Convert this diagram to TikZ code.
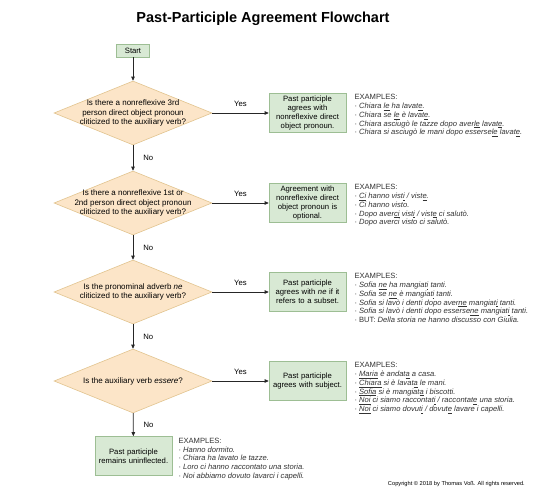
\documentclass[tikz,border=0pt]{standalone}
\usepackage{fontspec}
\setmainfont{Liberation Sans}
\usetikzlibrary{shapes.geometric,arrows.meta,positioning}

\definecolor{deciFill}{HTML}{FCE5C8}
\definecolor{deciLine}{HTML}{E2C48F}
\definecolor{resFill}{HTML}{D8E9D4}
\definecolor{resLine}{HTML}{9DBE94}
\definecolor{exText}{HTML}{333333}

\newcommand\flowfont{\fontsize{7.7}{8.9}\selectfont}
\newcommand\qfont{\fontsize{8}{9.2}\selectfont}
\newcommand\exfont{\fontsize{7.6}{8.8}\selectfont}

\tikzset{
  decision/.style={diamond, draw=deciLine, fill=deciFill, line width=0.6pt,
    minimum width=158pt, minimum height=64pt, inner sep=0pt},
  qtext/.style={align=center, font=\qfont, inner sep=0pt},
  result/.style={draw=resLine, fill=resFill, line width=0.6pt, text width=75pt,
    align=center, minimum width=77pt, minimum height=39pt, inner sep=1pt, font=\flowfont},
  startbox/.style={draw=resLine, fill=resFill, line width=0.6pt, minimum width=33pt,
    minimum height=13pt, inner sep=1pt, font=\flowfont},
  examples/.style={anchor=north west, align=left, inner sep=0pt, font=\exfont, text=exText},
  flow/.style={draw=black!85, line width=0.7pt, -{Triangle[length=4pt,width=3.5pt]}},
  yes/.style={midway, above=5pt, font=\flowfont, inner sep=1pt},
  no/.style={midway, right=9pt, font=\flowfont, inner sep=1pt}
}

\begin{document}
\begin{tikzpicture}[x=1pt,y=-1pt]
\useasboundingbox[fill=white] (0,0) rectangle (540,489);

\node[font=\fontsize{14.5}{17}\selectfont\bfseries] (title) at (263,19) {Past-Participle Agreement Flowchart};
\node[startbox] (start) at (133,50.5) {Start};

% questions
\node[decision, label={[qtext]center:{Is there a nonreflexive 3rd\\person direct object pronoun\\cliticized to the auxiliary verb?}}] (q1) at (133,113) {};
\node[decision, label={[qtext]center:{Is there a nonreflexive 1st or\\2nd person direct object pronoun\\cliticized to the auxiliary verb?}}] (q2) at (133,203) {};
\node[decision, label={[qtext]center:{Is the pronominal adverb \textit{ne}\\cliticized to the auxiliary verb?}}] (q3) at (133,292) {};
\node[decision, label={[qtext]center:{Is the auxiliary verb \textit{essere}?}}] (q4) at (133,381) {};

% answers
\node[result] (r1) at (307.5,113) {Past participle\\agrees with\\nonreflexive direct\\object pronoun.};
\node[result] (r2) at (307.5,203) {Agreement with\\nonreflexive direct\\object pronoun is\\optional.};
\node[result] (r3) at (307.5,292) {Past participle\\agrees with \textit{ne} if it\\refers to a subset.};
\node[result] (r4) at (307.5,381) {Past participle\\agrees with subject.};
\node[result] (r5) at (133.5,456) {Past participle\\remains uninflected.};

% examples
\node[examples] (e1) at ([xshift=8pt,yshift=-1pt]r1.north east) {EXAMPLES:\\
· \textit{Chiara \underline{le} ha lavat\underline{e}.}\\
· \textit{Chiara se \underline{le} è lavat\underline{e}.}\\
· \textit{Chiara asciugò le tazze dopo aver\underline{le} lavat\underline{e}.}\\
· \textit{Chiara si asciugò le mani dopo esserse\underline{le} lavat\underline{e}.}};
\node[examples] (e2) at ([xshift=8pt,yshift=-1pt]r2.north east) {EXAMPLES:\\
· \textit{\underline{Ci} hanno vist\underline{i} / vist\underline{e}.}\\
· \textit{Ci hanno visto.}\\
· \textit{Dopo aver\underline{ci} vist\underline{i} / vist\underline{e} ci salutò.}\\
· \textit{Dopo averci visto ci salutò.}};
\node[examples] (e3) at ([xshift=8pt,yshift=-1pt]r3.north east) {EXAMPLES:\\
· \textit{Sofia \underline{ne} ha mangiat\underline{i} tanti.}\\
· \textit{Sofia se \underline{ne} è mangiat\underline{i} tanti.}\\
· \textit{Sofia si lavò i denti dopo aver\underline{ne} mangiat\underline{i} tanti.}\\
· \textit{Sofia si lavò i denti dopo esserse\underline{ne} mangiat\underline{i} tanti.}\\
· BUT: \textit{Della storia ne hanno discusso con Giulia.}};
\node[examples] (e4) at ([xshift=8pt,yshift=-1pt]r4.north east) {EXAMPLES:\\
· \textit{\underline{Maria} è andat\underline{a} a casa.}\\
· \textit{\underline{Chiara} si è lavat\underline{a} le mani.}\\
· \textit{\underline{Sofia} si è mangiat\underline{a} i biscotti.}\\
· \textit{\underline{Noi} ci siamo raccontat\underline{i} / raccontat\underline{e} una storia.}\\
· \textit{\underline{Noi} ci siamo dovut\underline{i} / dovut\underline{e} lavare i capelli.}};
\node[examples] (e5) at ([xshift=6pt,yshift=-1.5pt]r5.north east) {EXAMPLES:\\
· \textit{Hanno dormito.}\\
· \textit{Chiara ha lavato le tazze.}\\
· \textit{Loro ci hanno raccontato una storia.}\\
· \textit{Noi abbiamo dovuto lavarci i capelli.}};

% connectors
\draw[flow] (start) -- (q1);
\draw[flow] (q1) -- node[yes] {Yes} (r1);
\draw[flow] (q1) -- node[no] {No} (q2);
\draw[flow] (q2) -- node[yes] {Yes} (r2);
\draw[flow] (q2) -- node[no] {No} (q3);
\draw[flow] (q3) -- node[yes] {Yes} (r3);
\draw[flow] (q3) -- node[no] {No} (q4);
\draw[flow] (q4) -- node[yes] {Yes} (r4);
\draw[flow] (q4) -- node[no] {No} (r5);

\node[anchor=east, font=\fontsize{5.7}{6}\selectfont, inner sep=0pt] (copy) at (525,484) {Copyright © 2018 by Thomas Voß. All rights reserved.};
\end{tikzpicture}
\end{document}
